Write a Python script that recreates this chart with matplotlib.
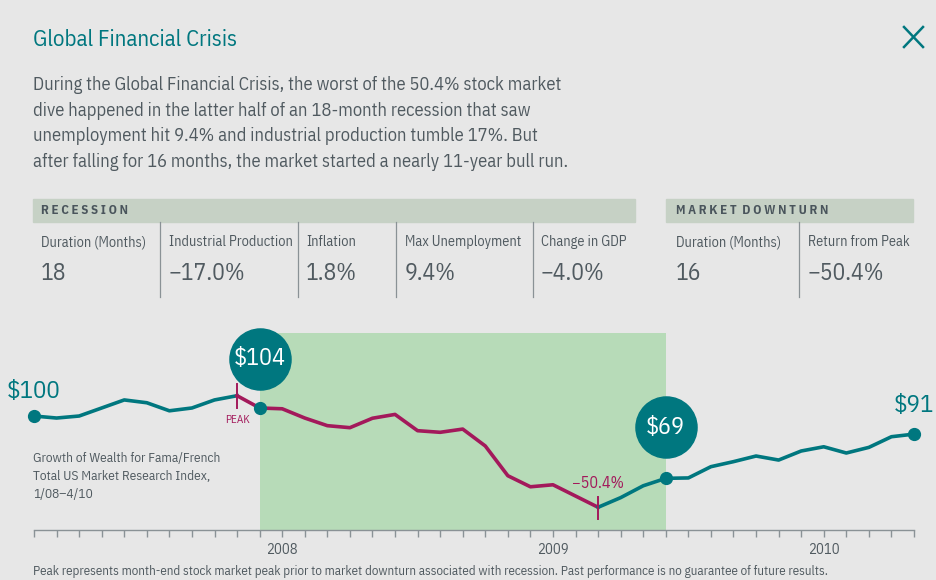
import matplotlib.pyplot as plt
from matplotlib.transforms import ScaledTranslation
from matplotlib.patches import Rectangle

# --- data (month-end growth of $100, Jan 2007 .. Apr 2010)
months = list(range(40))
wealth = [100.0, 99.0, 100.0, 104.0, 108.0, 106.6, 102.6, 104.0, 108.0, 110.1,
          104.0, 103.6, 99.0, 95.2, 94.2, 98.9, 100.8, 92.7, 91.9, 93.5,
          85.1, 70.3, 64.8, 65.8, 60.2, 54.6, 59.4, 65.3, 69.0, 69.2,
          74.8, 77.3, 80.1, 78.1, 82.6, 84.7, 81.6, 84.4, 89.7, 91.0]
peak_idx = 9
trough_idx = 25
recession = (10, 28)
dot_idx = [0, 10, 28, 39]
year_ticks = [11, 23, 35]
year_labels = ['2008', '2009', '2010']

rec_cols = ['Duration (Months)', 'Industrial Production', 'Inflation',
            'Max Unemployment', 'Change in GDP']
rec_vals = ['18', '\u221217.0%', '1.8%', '9.4%', '\u22124.0%']
mkt_cols = ['Duration (Months)', 'Return from Peak']
mkt_vals = ['16', '\u221250.4%']

TEAL = '#00777f'
MAG = '#a3195b'
GREEN = '#b7dbb8'
BG = '#e7e7e7'
BAND = '#c6d1c5'
GREY = '#505a60'

plt.rcParams['font.family'] = ['IBM Plex Sans Condensed', 'Open Sans Condensed',
                               'DejaVu Sans']

W, H = 936, 580
fig = plt.figure(figsize=(W / 100, H / 100), dpi=100, facecolor=BG)


def px(x, y):
    return x / W, 1 - y / H


# --- title + intro
fig.text(*px(33, 40), 'Global Financial Crisis', color=TEAL, fontsize=16.5,
         va='center')
# close icon
fig.add_artist(plt.Line2D([904 / W, 923 / W], [1 - 27 / H, 1 - 47 / H],
                          color=TEAL, lw=1.8))
fig.add_artist(plt.Line2D([904 / W, 923 / W], [1 - 47 / H, 1 - 27 / H],
                          color=TEAL, lw=1.8))
intro = ['During the Global Financial Crisis, the worst of the 50.4% stock market',
         'dive happened in the latter half of an 18-month recession that saw',
         'unemployment hit 9.4% and industrial production tumble 17%. But',
         'after falling for 16 months, the market started a nearly 11-year bull run.']
for i, line in enumerate(intro):
    fig.text(*px(33, 85 + i * 25.7), line, color=GREY, fontsize=13.3,
             va='center')

# --- table
fig.patches.append(Rectangle(px(33, 222), 602 / W, 23 / H, color=BAND,
                             transform=fig.transFigure))
fig.patches.append(Rectangle(px(666, 222), 247 / W, 23 / H, color=BAND,
                             transform=fig.transFigure))
fig.text(*px(41, 211), 'R\u2009E\u2009C\u2009E\u2009S\u2009S\u2009I\u2009O\u2009N',
         color='#4a555c', fontsize=9.3, fontweight='bold', va='center')
fig.text(*px(676, 211), 'M\u2009A\u2009R\u2009K\u2009E\u2009T  '
         'D\u2009O\u2009W\u2009N\u2009T\u2009U\u2009R\u2009N',
         color='#4a555c', fontsize=9.3, fontweight='bold', va='center')

rec_x = [41, 169, 306, 405, 541]
for x, c, v in zip(rec_x, rec_cols, rec_vals):
    fig.text(*px(x, 242), c, color=GREY, fontsize=10.3, va='center')
    fig.text(*px(x, 273), v, color=GREY, fontsize=17, va='center')
mkt_x = [676, 808]
for x, c, v in zip(mkt_x, mkt_cols, mkt_vals):
    fig.text(*px(x, 242), c, color=GREY, fontsize=10.3, va='center')
    fig.text(*px(x, 273), v, color=GREY, fontsize=17, va='center')
for x in [160, 298, 396, 533, 799]:
    fig.add_artist(plt.Line2D([x / W, x / W], [1 - 222 / H, 1 - 297 / H],
                              color='#8a9296', lw=0.9))

# --- chart
ax = fig.add_axes([34 / W, 50 / H, 880 / W, 197 / H])
ax.set_facecolor('none')
ax.set_xlim(0, 39)
ax.set_ylim(43.3, 141.3)
for s in ['top', 'right', 'left']:
    ax.spines[s].set_visible(False)
ax.spines['bottom'].set_color('#8a9296')
ax.spines['bottom'].set_linewidth(1)
ax.set_yticks([])
ax.set_xticks(months)
ax.set_xticklabels([])
ax.tick_params(axis='x', length=5, width=1, color='#8a9296', direction='out')

ax.axvspan(recession[0], recession[1], color=GREEN, lw=0, zorder=0)

ax.plot(months[:peak_idx + 1], wealth[:peak_idx + 1], color=TEAL, lw=2.6,
        solid_joinstyle='round', clip_on=False)
ax.plot(months[peak_idx:trough_idx + 1], wealth[peak_idx:trough_idx + 1],
        color=MAG, lw=2.6, solid_joinstyle='round', clip_on=False)
ax.plot(months[trough_idx:], wealth[trough_idx:], color=TEAL, lw=2.6,
        solid_joinstyle='round', clip_on=False)
ax.plot(dot_idx, [wealth[i] for i in dot_idx], 'o', color=TEAL, ms=8.5,
        clip_on=False, zorder=5)

# peak + trough markers
ax.plot([peak_idx, peak_idx], [wealth[peak_idx] - 6, wealth[peak_idx] + 6],
        color=MAG, lw=1.4)
ax.text(peak_idx, wealth[peak_idx] - 12, 'PEAK', color=MAG, fontsize=8,
        ha='center', va='center')
ax.plot([trough_idx, trough_idx], [wealth[trough_idx] - 6,
                                   wealth[trough_idx] + 5],
        color=MAG, lw=1.4)
ax.text(trough_idx, wealth[trough_idx] + 12, '\u221250.4%', color=MAG,
        fontsize=11.5, ha='center', va='center')

# value bubbles
for i, lab, dy in [(10, '$104', 0.49), (28, '$69', 0.51)]:
    tr = ax.transData + ScaledTranslation(0, dy, fig.dpi_scale_trans)
    ax.plot([i], [wealth[i]], 'o', color=TEAL, ms=44, transform=tr,
            clip_on=False, zorder=6)
    ax.text(i, wealth[i], lab, color='white', fontsize=17.5, ha='center',
            va='center', transform=tr, zorder=7)
ax.text(0, wealth[0] + 12, '$100', color=TEAL, fontsize=18, ha='center',
        va='center')
ax.text(39, wealth[-1] + 14, '$91', color=TEAL, fontsize=18, ha='center',
        va='center')

for t, lab in zip(year_ticks, year_labels):
    ax.text(t, 43.3 - 10, lab, color=GREY, fontsize=10.5, ha='center',
            va='center')

fig.text(*px(33, 477), 'Growth of Wealth for Fama/French\n'
         'Total US Market Research Index,\n1/08\u20134/10', color=GREY,
         fontsize=9.6, va='center', linespacing=1.5)

fig.text(*px(33, 572), 'Peak represents month-end stock market peak prior to '
         'market downturn associated with recession. Past performance is no '
         'guarantee of future results.', color=GREY, fontsize=9.4,
         va='center')

fig.savefig('out.png', dpi=100, facecolor=BG)
